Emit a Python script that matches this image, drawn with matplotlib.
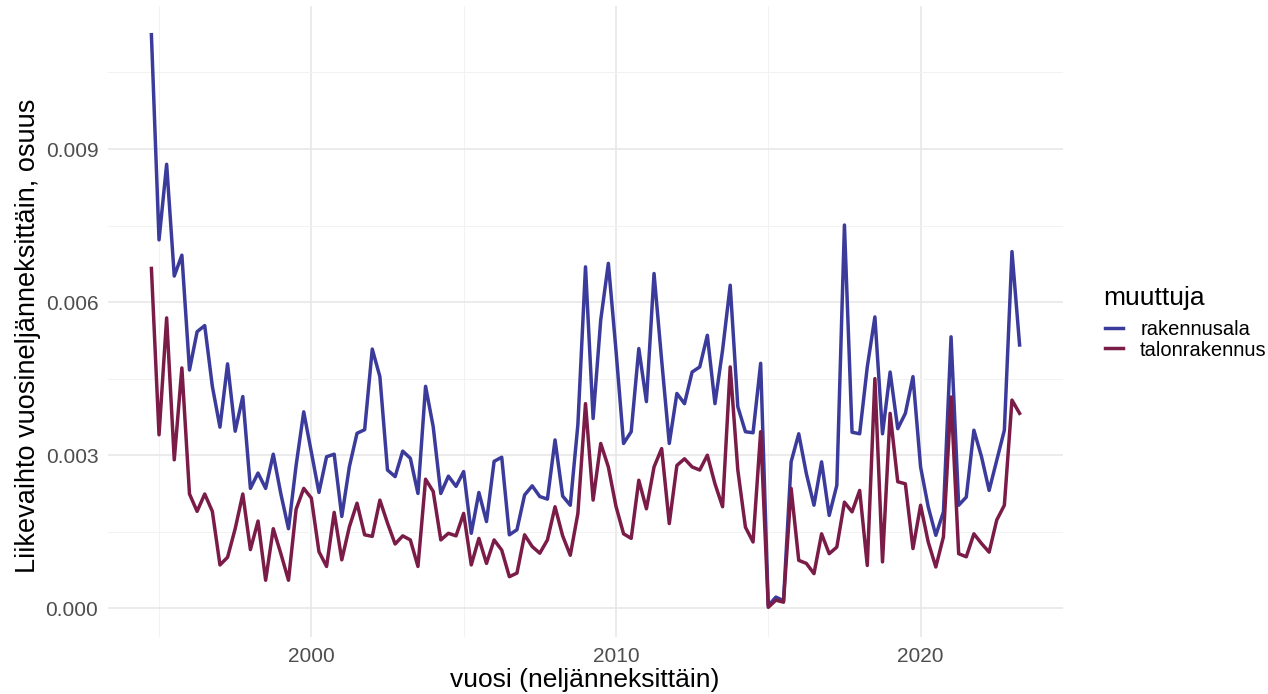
import matplotlib
matplotlib.use("Agg")
import matplotlib.pyplot as plt
from matplotlib.ticker import MultipleLocator, FixedLocator
import numpy as np
import pandas as pd

plt.rcParams['font.family'] = ['Liberation Sans', 'DejaVu Sans']

# quarterly periods 1994Q4 .. 2023Q2
quarters = pd.period_range('1994Q4', '2023Q2', freq='Q')

rakennusala = [
    0.01124, 0.00722, 0.00870, 0.00651, 0.00692, 0.00467, 0.00542, 0.00554, 0.00435, 0.00355,
    0.00479, 0.00347, 0.00415, 0.00235, 0.00265, 0.00235, 0.00302, 0.00224, 0.00156, 0.00280,
    0.00385, 0.00306, 0.00227, 0.00297, 0.00302, 0.00180, 0.00278, 0.00343, 0.00350, 0.00508,
    0.00454, 0.00271, 0.00258, 0.00308, 0.00294, 0.00225, 0.00435, 0.00356, 0.00225, 0.00259,
    0.00239, 0.00268, 0.00147, 0.00227, 0.00170, 0.00288, 0.00296, 0.00144, 0.00154, 0.00222,
    0.00240, 0.00219, 0.00214, 0.00330, 0.00220, 0.00202, 0.00360, 0.00669, 0.00372, 0.00565,
    0.00676, 0.00506, 0.00323, 0.00346, 0.00509, 0.00405, 0.00656, 0.00486, 0.00323, 0.00421,
    0.00401, 0.00463, 0.00473, 0.00535, 0.00401, 0.00506, 0.00633, 0.00395, 0.00346, 0.00344,
    0.00480, 0.00005, 0.00022, 0.00015, 0.00287, 0.00342, 0.00264, 0.00202, 0.00287, 0.00182,
    0.00241, 0.00751, 0.00345, 0.00342, 0.00473, 0.00571, 0.00342, 0.00463, 0.00352, 0.00382,
    0.00454, 0.00277, 0.00199, 0.00143, 0.00189, 0.00532, 0.00202, 0.00218, 0.00349, 0.00297,
    0.00231, 0.00290, 0.00349, 0.00699, 0.00516,
]

talonrakennus = [
    0.00666, 0.00340, 0.00569, 0.00291, 0.00471, 0.00224, 0.00190, 0.00224, 0.00190, 0.00085,
    0.00100, 0.00156, 0.00224, 0.00115, 0.00171, 0.00055, 0.00156, 0.00107, 0.00055, 0.00194,
    0.00235, 0.00216, 0.00111, 0.00082, 0.00188, 0.00095, 0.00160, 0.00206, 0.00144, 0.00141,
    0.00212, 0.00167, 0.00126, 0.00142, 0.00134, 0.00082, 0.00253, 0.00229, 0.00134, 0.00147,
    0.00142, 0.00186, 0.00085, 0.00137, 0.00088, 0.00134, 0.00114, 0.00062, 0.00069, 0.00144,
    0.00121, 0.00108, 0.00134, 0.00199, 0.00142, 0.00104, 0.00186, 0.00401, 0.00212, 0.00323,
    0.00277, 0.00200, 0.00146, 0.00137, 0.00251, 0.00195, 0.00277, 0.00313, 0.00166, 0.00280,
    0.00293, 0.00277, 0.00271, 0.00300, 0.00244, 0.00199, 0.00473, 0.00271, 0.00159, 0.00130,
    0.00346, 0.00002, 0.00016, 0.00012, 0.00235, 0.00094, 0.00088, 0.00068, 0.00146, 0.00107,
    0.00120, 0.00208, 0.00189, 0.00231, 0.00084, 0.00450, 0.00091, 0.00382, 0.00248, 0.00244,
    0.00117, 0.00202, 0.00130, 0.00081, 0.00140, 0.00414, 0.00107, 0.00101, 0.00146, 0.00127,
    0.00110, 0.00173, 0.00202, 0.00408, 0.00382,
]

series_names = ['rakennusala', 'talonrakennus']
series_colors = ['#3b3b9b', '#7a1c47']

x = np.array([p.year + (p.quarter - 1) / 4 for p in quarters])

W, H = 1268, 694
fig = plt.figure(figsize=(W / 100, H / 100), dpi=100)
left, right, top, bottom = 108, 1063, 6, 637
ax = fig.add_axes([left / W, 1 - bottom / H, (right - left) / W, (bottom - top) / H])

for vals, name, col in zip([rakennusala, talonrakennus], series_names, series_colors):
    ax.plot(x, vals, color=col, lw=2.5, label=name, solid_joinstyle='round')

xmin, xmax = x.min(), x.max()
dx = (xmax - xmin) * 0.05
ax.set_xlim(xmin - dx, xmax + dx)
ymin, ymax = 0.0, max(max(rakennusala), max(talonrakennus))
dy = (ymax - ymin) * 0.05
ax.set_ylim(ymin - dy, ymax + dy)

ax.xaxis.set_major_locator(FixedLocator([2000, 2010, 2020]))
ax.xaxis.set_minor_locator(FixedLocator([1995, 2005, 2015]))
ax.yaxis.set_major_locator(MultipleLocator(0.003))
ax.yaxis.set_minor_locator(MultipleLocator(0.0015))
ax.yaxis.set_major_formatter(matplotlib.ticker.FuncFormatter(lambda v, p: f"{v:.3f}"))

ax.grid(True, which='major', color='#e6e6e6', lw=1.1)
ax.grid(True, which='minor', color='#f2f2f2', lw=0.7)
ax.set_axisbelow(True)
for s in ax.spines.values():
    s.set_visible(False)
ax.tick_params(which='both', length=0)
ax.tick_params(axis='both', labelsize=15, labelcolor='#4d4d4d', pad=7)

fig.text(585 / W, 1 - 680 / H, 'vuosi (neljänneksittäin)', ha='center', va='center',
         fontsize=19, color='black')
fig.text(28 / W, 1 - 336 / H, 'Liikevaihto vuosineljänneksittäin, osuus', ha='center',
         va='center', rotation=90, fontsize=19.5, color='black')

# legend
fig.text(1103 / W, 1 - 305 / H, 'muuttuja', ha='left', va='baseline', fontsize=19,
         color='black')
leg = fig.legend(loc='center left', bbox_to_anchor=(1105 / W, 1 - 340 / H), frameon=False,
                 fontsize=14.5, handlelength=0.9, handletextpad=0.85, labelspacing=0.05,
                 borderpad=0, borderaxespad=0)
for line in leg.get_lines():
    line.set_linewidth(2.5)

fig.savefig('out.png', dpi=100, facecolor='white')
